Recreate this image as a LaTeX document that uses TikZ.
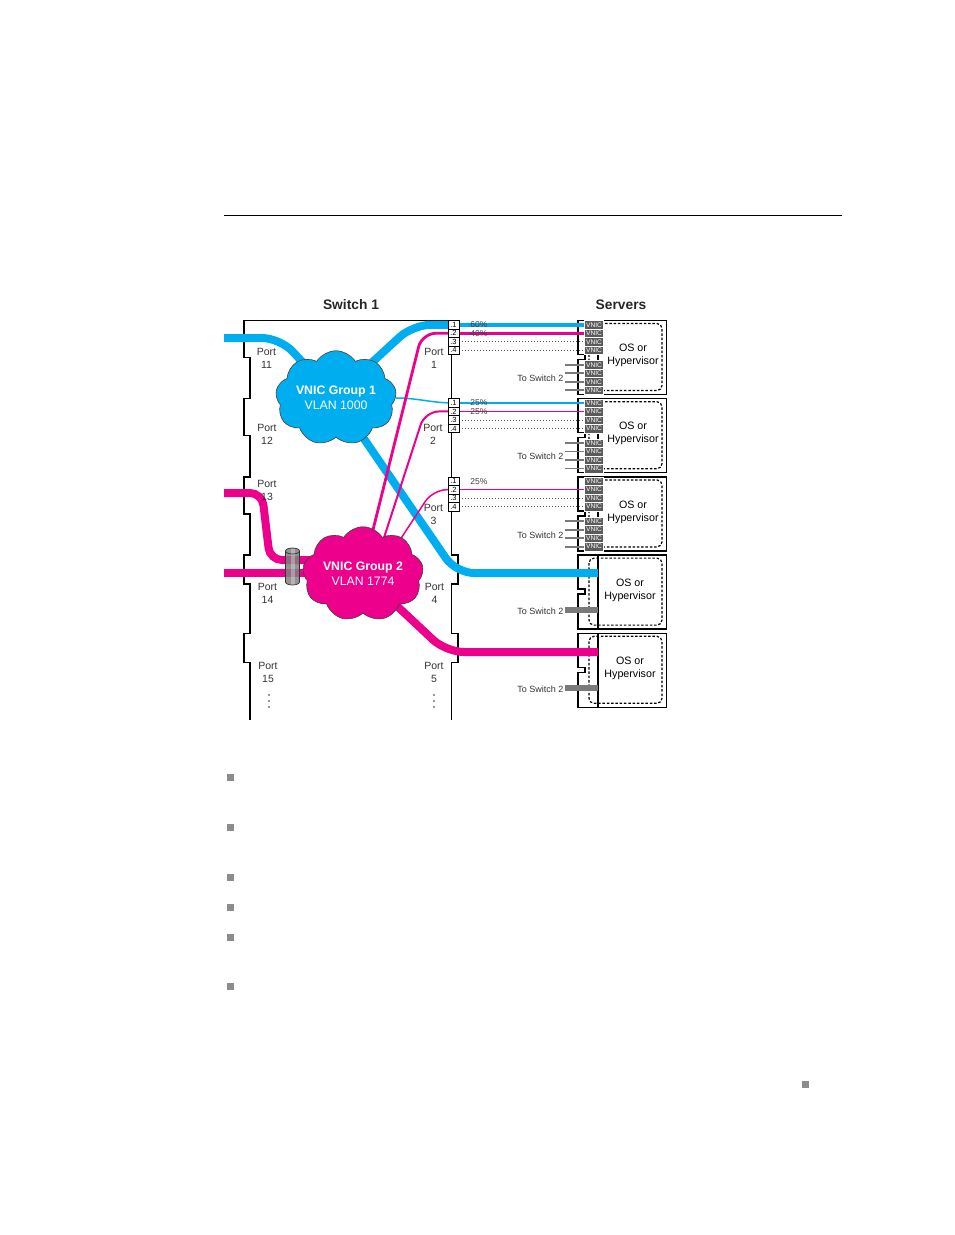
\documentclass[tikz,border=0pt]{standalone}
\usepackage{fontspec}
\setmainfont{Liberation Sans}
\usetikzlibrary{shapes.symbols,shapes.geometric}
\pgfdeclarelayer{bg}
\pgfdeclarelayer{wires}
\pgfsetlayers{bg,wires,main}
\definecolor{vblue}{HTML}{00AEEF}
\definecolor{vpink}{HTML}{EC008C}
\definecolor{vnicgray}{HTML}{5A5A5A}
\definecolor{wiregray}{HTML}{7A7A7A}
\definecolor{bulletgray}{HTML}{8C8C8C}
\definecolor{txt}{HTML}{333333}
\tikzset{
  portbox/.style={draw=black, line width=0.8pt, fill=white, minimum width=11pt, minimum height=8.5pt, inner sep=0pt, font=\fontsize{7.5}{7.5}\selectfont},
  vnic/.style={fill=vnicgray, draw=white, line width=0.3pt, minimum width=19pt, minimum height=8.5pt, inner sep=0pt, text=white, font=\fontsize{6.6}{6.6}\selectfont},
  portlbl/.style={align=center, text=txt, inner sep=0pt, font=\fontsize{10.5}{13}\selectfont},
  oslbl/.style={align=center, text=black, inner sep=0pt, font=\fontsize{10.7}{13}\selectfont},
  tosw/.style={anchor=east, inner sep=0pt, text=txt, font=\fontsize{9}{9}\selectfont},
  pct/.style={inner sep=0pt, text=black!75, font=\fontsize{8.5}{8.5}\selectfont},
  thickblue/.style={vblue, line width=8pt, rounded corners=18pt},
  thickpink/.style={vpink, line width=8pt, rounded corners=18pt},
  thinpink/.style={vpink, rounded corners=14pt},
  title/.style={font=\bfseries\fontsize{13.8}{16}\selectfont, text=black!85, inner sep=0pt},
  vcloud/.style={cloud, cloud puffs=9, cloud puff arc=115, aspect=1.45, draw=black!75, line width=0.6pt, inner sep=0pt, align=center, text=white, font=\fontsize{12.3}{15}\selectfont},
  sw2/.style={wiregray, line width=1.8pt},
  dotw/.style={black!65, line width=0.8pt, dash pattern=on 0.8pt off 2.2pt},
  dashbox/.style={line width=1.2pt, dash pattern=on 2.5pt off 1.8pt, rounded corners=5pt},
  outline/.style={line width=1.4pt, black},
  srvline/.style={line width=1.3pt, black}
}
\begin{document}
\begin{tikzpicture}[x=1pt,y=-1pt]
\useasboundingbox (0,0) rectangle (954,1235);
% top rule
\coordinate (ruleL) at (224,215);
\coordinate (ruleR) at (842,215);
\draw[line width=0.9pt] (ruleL) -- (ruleR);
% titles
\node[title] (sw1title) at (351,304.5) {Switch 1};
\node[title] (srvtitle) at (621,304.5) {Servers};

% clouds
\node[vcloud, fill=vblue, minimum width=108pt, minimum height=80pt] (cloud1) at (336,398) {\textbf{VNIC Group 1}\\VLAN 1000};
\node[vcloud, fill=vpink, minimum width=108pt, minimum height=76pt] (cloud2) at (363,574) {\textbf{VNIC Group 2}\\VLAN 1774};

% LAG cylinder
\coordinate (lag) at (292.5,566.5);
\fill[black!50, fill opacity=0.85] (285.5,551) -- (285.5,582) arc[start angle=180, end angle=0, x radius=7, y radius=3] -- (299.5,551) arc[start angle=0, end angle=-180, x radius=7, y radius=3] -- cycle;
\fill[white, fill opacity=0.3] (290.5,548.5) rectangle (294.5,584.8);
\draw[black!80, line width=0.7pt] (285.5,551) -- (285.5,582) arc[start angle=180, end angle=0, x radius=7, y radius=3] -- (299.5,551);
\draw[black!80, line width=0.7pt] (292.5,551) ellipse[x radius=7, y radius=3];

% port boxes
\foreach \k/\t in {1/320.5,2/398.7,3/476.9}{
  \foreach \i in {1,2,3,4}{
    \node[portbox] (p\k-\i) at (453.5,{\t+4.25+8.5*(\i-1)}) {.\i};
  }
}

% port labels
\node[portlbl] (pl11) at (266.5,358) {Port\\11};
\node[portlbl] (pl12) at (267,434) {Port\\12};
\node[portlbl] (pl13) at (267,490) {Port\\13};
\node[portlbl] (pl14) at (267.5,593) {Port\\14};
\node[portlbl] (pl15) at (268,672) {Port\\15};
\node[portlbl] (pl1) at (434,358) {Port\\1};
\node[portlbl] (pl2) at (433,434) {Port\\2};
\node[portlbl] (pl3) at (433.5,514) {Port\\3};
\node[portlbl] (pl4) at (434.5,593) {Port\\4};
\node[portlbl] (pl5) at (434,672) {Port\\5};
\foreach \x in {269,434}{
  \foreach \j in {0,1,2}{
    \fill[txt] (\x,{695+6*\j}) circle (0.9pt);
  }
}

% servers with VNICs
\foreach \k/\t in {1/320.5,2/398.7,3/476.9}{
  \foreach \i in {1,2,3,4}{
    \node[vnic] (v\k-\i) at (594,{\t+4.25+8.5*(\i-1)}) {VNIC};
    \node[vnic] (v\k-b\i) at (594,{\t+44.25+8.5*(\i-1)}) {VNIC};
    \coordinate (g\k-\i) at (565,{\t+44.25+8.5*(\i-1)});
    \begin{pgfonlayer}{wires}
      \draw[sw2] (g\k-\i) -- (v\k-b\i.west);
    \end{pgfonlayer}
  }
  \node[oslbl] (os\k) at (633,{\t+35}) {OS or\\Hypervisor};
  \node[tosw] (ts\k) at (563.5,{\t+58}) {To Switch 2};
}
\foreach \k/\t in {4/555.1,5/633.3}{
  \node[oslbl] (os\k) at (630,{\t+35}) {OS or\\Hypervisor};
  \node[tosw] (ts\k) at (563.5,{\t+56}) {To Switch 2};
  \coordinate (g\k) at (565,{\t+55});
  \coordinate (e\k) at (598,{\t+55});
  \begin{pgfonlayer}{wires}
    \draw[wiregray, line width=6pt] (g\k) -- (e\k);
  \end{pgfonlayer}
}

% percentages
\node[pct] (pc1) at (479,324.75) {60\%};
\node[pct] (pc2) at (479,333.25) {40\%};
\node[pct] (pc3) at (479,402.95) {25\%};
\node[pct] (pc4) at (479,411.45) {25\%};
\node[pct] (pc5) at (479,481.5) {25\%};

% background: switch and server outlines
\begin{pgfonlayer}{bg}
  \draw[outline] (448,320.5) -- (244,320.5) -- (244,357.5) -- (250,357.5) -- (250,398.7) -- (244,398.7) -- (244,435.7) -- (250,435.7) -- (250,476.9) -- (244,476.9) -- (244,513.9) -- (250,513.9) -- (250,555.1) -- (244,555.1) -- (244,584.1) -- (250,584.1) -- (250,633.3) -- (244,633.3) -- (244,662.3) -- (250,662.3) -- (250,720);
  \draw[outline] (451.5,320.5) -- (451.5,555.1) -- (458,555.1) -- (458,584.1) -- (451.5,584.1) -- (451.5,633.3) -- (458,633.3) -- (458,662.3) -- (451.5,662.3) -- (451.5,720);
  \foreach \t in {320.5,398.7,476.9,555.1,633.3}{
    \draw[srvline] (578,\t) -- (666.7,\t) -- (666.7,{\t+74}) -- (578,{\t+74}) -- (578,{\t+39}) -- (585,{\t+39}) -- (585,{\t+34}) -- (578,{\t+34}) -- cycle;
    \draw[dashbox] (589,{\t+3}) rectangle (662,{\t+70});
    \draw[line width=1.6pt] (598,\t) -- (598,{\t+74});
  }
\end{pgfonlayer}

% wires
\coordinate (b1s) at (224,338);
\coordinate (k1s) at (224,493);
\coordinate (k2s) at (224,573);
\coordinate (c2a) at (335,560);
\coordinate (c2b) at (335,573);
\coordinate (c2t1) at (368,550);
\coordinate (c2t2) at (380,550);
\coordinate (c2t3) at (392,552);
\coordinate (c1a) at (342,390);
\coordinate (s4in) at (598,573);
\coordinate (s5in) at (598,652);
\begin{pgfonlayer}{wires}
  \draw[thickblue] (b1s) -- (280,338) -- (cloud1.center);
  \draw[thickblue] (c1a) -- (413,324.75) -- (p1-1.center);
  \draw[thickblue] (cloud1.center) -- (456,573) -- (s4in);
  \draw[vblue, line width=1.5pt] (cloud1.east) to[out=0,in=180] (p2-1.center);
  \draw[thickpink, rounded corners=12pt] (k1s) -- (262,493) -- (270,560) -- (c2a);
  \draw[thickpink] (k2s) -- (c2b);
  \draw[thickpink] (cloud2.center) -- (446,652) -- (s5in);
  \draw[thinpink, line width=2.8pt] (c2t1) -- (422,333.25) -- (p1-2.center);
  \draw[thinpink, line width=2pt] (c2t2) -- (425,411.45) -- (p2-2.center);
  \draw[thinpink, line width=1.5pt] (c2t3) -- (433,489.65) -- (p3-2.center);
  \draw[vblue, line width=4pt] (p1-1.east) -- (v1-1.west);
  \draw[vpink, line width=3pt] (p1-2.east) -- (v1-2.west);
  \draw[vblue, line width=1.5pt] (p2-1.east) -- (v2-1.west);
  \draw[vpink, line width=1.5pt] (p2-2.east) -- (v2-2.west);
  \draw[vpink, line width=1.5pt] (p3-2.east) -- (v3-2.west);
  \foreach \k in {1,2,3}{
    \foreach \i in {3,4}{
      \draw[dotw] (p\k-\i.east) -- (v\k-\i.west);
    }
  }
\end{pgfonlayer}

% bullets
\foreach \y in {777,827,877,907,937,986}{
  \fill[bulletgray] (226.5,{\y-3.5}) rectangle ++(7,7);
}
\fill[bulletgray] (801.5,1080.5) rectangle ++(7,7);
\end{tikzpicture}
\end{document}
